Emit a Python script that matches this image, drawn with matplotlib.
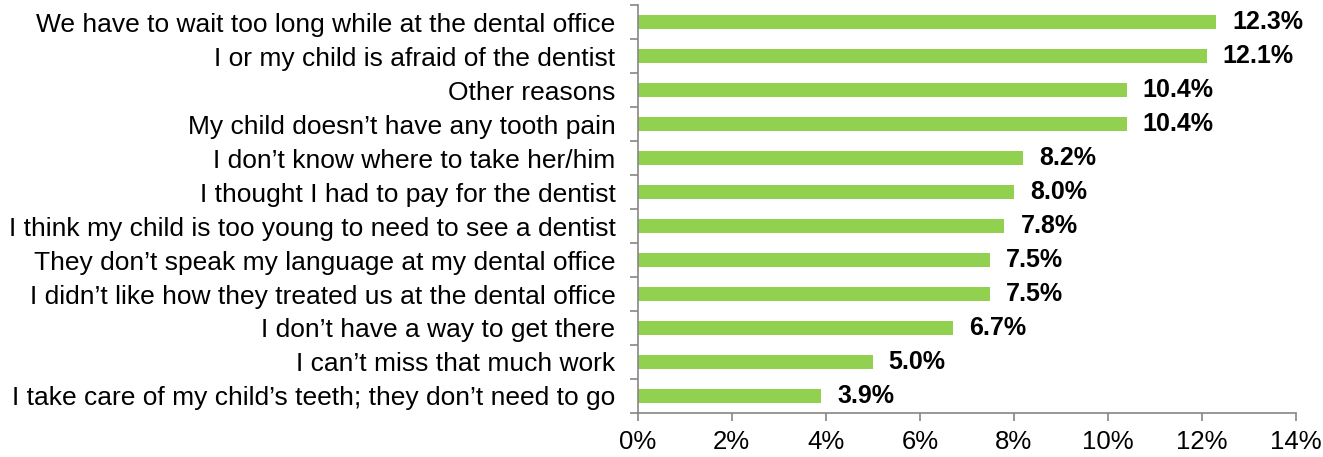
import matplotlib
matplotlib.use("Agg")
import matplotlib.pyplot as plt
import numpy as np
from matplotlib.ticker import FixedLocator, FuncFormatter

categories = [
    "We have to wait too long while at the dental office",
    "I or my child is afraid of the dentist",
    "Other reasons",
    "My child doesn\u2019t have any tooth pain",
    "I don\u2019t know where to take her/him",
    "I thought I had to pay for the dentist",
    "I think my child is too young to need to see a dentist",
    "They don\u2019t speak my language at my dental office",
    "I didn\u2019t like how they treated us at the dental office",
    "I don\u2019t have a way to get there",
    "I can\u2019t miss that much work",
    "I take care of my child\u2019s teeth; they don\u2019t need to go",
]
values = [12.3, 12.1, 10.4, 10.4, 8.2, 8.0, 7.8, 7.5, 7.5, 6.7, 5.0, 3.9]
xticks = [0, 2, 4, 6, 8, 10, 12, 14]

plt.rcParams['font.family'] = ['Liberation Sans', 'DejaVu Sans']

fig = plt.figure(figsize=(13.23, 4.57), dpi=100)
ax = fig.add_axes([0.482, 0.0963, 0.9796 - 0.482, 0.989 - 0.0963])

n = len(categories)
y = np.arange(n)[::-1]
ax.barh(y, values, height=0.42, color="#92D050")
for yi, v in zip(y, values):
    ax.text(v + 0.34, yi, f"{v:.1f}%", va="center", ha="left",
            fontsize=18, fontweight="bold", color="black")

ax.set_xlim(0, 14)
ax.set_ylim(-0.5, n - 0.5)
ax.set_xticks(xticks)
ax.xaxis.set_major_formatter(FuncFormatter(lambda x, p: f"{x:.0f}%"))
ax.set_yticks(y)
ax.set_yticklabels(categories)
ax.yaxis.set_minor_locator(FixedLocator(np.arange(-0.5, n, 1.0)))

axis_color = "#868686"
for s in ["top", "right"]:
    ax.spines[s].set_visible(False)
for s in ["left", "bottom"]:
    ax.spines[s].set_color(axis_color)
    ax.spines[s].set_linewidth(1.2)

ax.tick_params(axis="y", which="major", length=0, pad=16, labelsize=19)
ax.tick_params(axis="y", which="minor", length=6, color=axis_color, width=1.2)
ax.tick_params(axis="x", which="major", length=6, color=axis_color, width=1.2,
               labelsize=18.5, pad=6)

fig.savefig("out.png", dpi=100)
